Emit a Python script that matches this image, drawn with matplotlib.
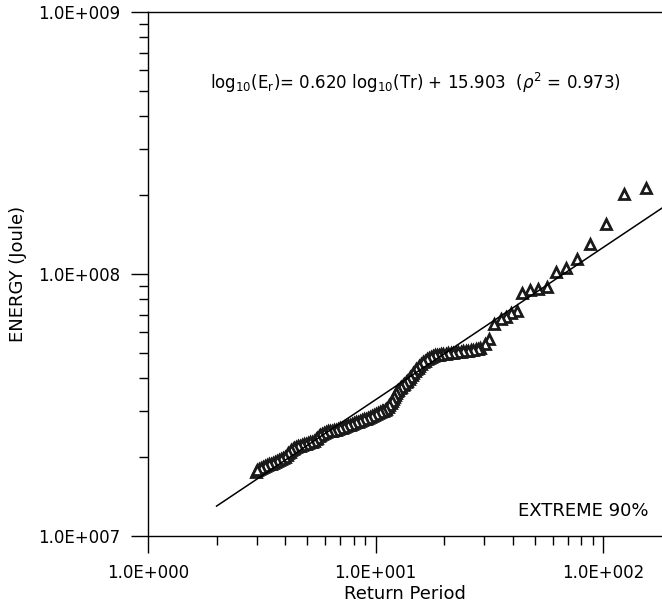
import numpy as np
import matplotlib
matplotlib.use("Agg")
import matplotlib.pyplot as plt
from matplotlib.ticker import FuncFormatter, LogLocator

# return period (years) and released energy (units of 1e7 J)
return_period = [153.7, 123.0, 102.6, 87.2, 76.5, 68.4, 61.9, 56.5, 51.6, 47.6,
                 43.9, 41.7, 39.3, 37.3, 35.5, 33.0, 31.4, 30.2,
                 28.69, 27.55, 26.19, 24.91, 23.68, 22.51, 21.40, 20.35, 19.34, 18.57,
                 17.84, 17.13, 16.46, 15.80, 15.33, 14.87, 14.43, 14.00, 13.58, 13.17,
                 12.78, 12.40, 12.15, 11.91, 11.67, 11.32, 10.98, 10.65, 10.23, 9.82,
                 9.44, 9.06, 8.70, 8.36, 8.03, 7.71, 7.40, 7.11, 6.83, 6.56,
                 6.30, 6.05, 5.81, 5.63, 5.47, 5.25, 5.04, 4.84, 4.65, 4.47,
                 4.33, 4.20, 4.08, 3.92, 3.76, 3.61, 3.47, 3.33, 3.20, 3.07, 2.98]
energy_e7 = [21.29, 20.20, 15.52, 13.02, 11.41, 10.54, 10.18, 8.92, 8.76, 8.69,
             8.46, 7.22, 7.10, 6.85, 6.73, 6.45, 5.65, 5.41,
             5.22, 5.17, 5.13, 5.08, 5.04, 5.04, 4.99, 4.95, 4.95, 4.91,
             4.86, 4.78, 4.66, 4.53, 4.38, 4.26, 4.12, 3.97, 3.87, 3.77,
             3.67, 3.58, 3.45, 3.33, 3.22, 3.11, 3.03, 3.00, 2.95, 2.90,
             2.85, 2.80, 2.77, 2.72, 2.70, 2.65, 2.63, 2.58, 2.56, 2.54,
             2.52, 2.49, 2.45, 2.41, 2.35, 2.28, 2.26, 2.24, 2.21, 2.19,
             2.15, 2.09, 2.04, 1.98, 1.95, 1.92, 1.88, 1.87, 1.83, 1.80, 1.76]

# remaining events of the dense part of the record
return_period_b = [28.12, 26.73, 25.42, 24.16, 22.97, 21.84, 20.76, 19.74, 18.96, 18.20,
                   17.48, 16.79, 16.12, 15.48, 15.02, 14.58, 14.14, 13.72, 13.31, 12.91,
                   12.52, 12.27, 12.03, 11.79, 11.43, 11.09, 10.76, 10.44, 10.03, 9.63,
                   9.25, 8.88, 8.53, 8.19, 7.87, 7.55, 7.26, 6.97, 6.69, 6.43,
                   6.17, 5.93, 5.69, 5.52, 5.36, 5.14, 4.94, 4.75, 4.56, 4.38,
                   4.24, 4.12, 4.00, 3.84, 3.69, 3.54, 3.40, 3.26, 3.13, 3.01]
energy_e7_b = [5.17, 5.13, 5.08, 5.08, 5.04, 4.99, 4.99, 4.95, 4.91, 4.91,
               4.82, 4.74, 4.61, 4.45, 4.34, 4.19, 4.04, 3.91, 3.80, 3.70,
               3.61, 3.51, 3.39, 3.27, 3.16, 3.05, 3.00, 2.97, 2.92, 2.87,
               2.82, 2.80, 2.75, 2.72, 2.68, 2.65, 2.61, 2.58, 2.54, 2.52,
               2.52, 2.47, 2.43, 2.37, 2.30, 2.28, 2.24, 2.23, 2.21, 2.17,
               2.13, 2.07, 2.00, 1.97, 1.93, 1.90, 1.88, 1.85, 1.82, 1.79]

# fitted power law drawn through the points (log10 E = a log10 Tr + b)
fit_slope = 0.5816
fit_intercept = 6.939
fit_range = [2.0, 200.0]

eq_text = (r"log$_{10}$(E$_{\rm r}$)= 0.620 log$_{10}$(Tr) + 15.903  "
           r"($\rho^2$ = 0.973)")

plt.rcParams['font.family'] = ['DejaVu Sans']
plt.rcParams['font.size'] = 12

fig = plt.figure(figsize=(6.62, 6.10), dpi=100)
ax = fig.add_axes([148/662, 74/610, 514/662, 524/610])

tr = np.concatenate([return_period, return_period_b])
en = np.concatenate([energy_e7, energy_e7_b]) * 1e7
ax.plot(tr, en, ls='none', marker='^', ms=7, mfc='white', mec='#1a1a1a',
        mew=2.0, zorder=3)

tl = np.array(fit_range)
ax.plot(tl, 10 ** (fit_slope * np.log10(tl) + fit_intercept), color='black',
        lw=1.1, zorder=4)

ax.set_xscale('log')
ax.set_yscale('log')
ax.set_xlim(1, 10 ** 2.2569)
ax.set_ylim(1e7, 1e9)

fmt = FuncFormatter(lambda v, p: "1.0E%+04d" % int(round(np.log10(v))))
ax.xaxis.set_major_formatter(fmt)
ax.yaxis.set_major_formatter(fmt)
for a in (ax.xaxis, ax.yaxis):
    a.set_major_locator(LogLocator(base=10, numticks=10))
    a.set_minor_locator(LogLocator(base=10, subs=np.arange(2, 10), numticks=20))
ax.tick_params(which='major', direction='out', length=12, width=1, labelsize=12)
ax.tick_params(which='minor', direction='out', length=6.5, width=1)
ax.tick_params(axis='x', which='major', pad=8)
ax.tick_params(axis='y', which='major', pad=8)
ax.spines['right'].set_visible(False)
for s in ('left', 'bottom', 'top'):
    ax.spines[s].set_linewidth(1)

fig.text(415/662, 1 - 83/610, eq_text, ha='center', va='center', fontsize=12)
fig.text(648/662, 1 - 511/610, "EXTREME 90%", ha='right', va='center', fontsize=13)
fig.text(405/662, 1 - 594/610, "Return Period", ha='center', va='center', fontsize=13)
fig.text(18/662, 1 - 274/610, "ENERGY (Joule)", rotation=90, ha='center',
         va='center', fontsize=13)

fig.savefig("out.png", dpi=100)
